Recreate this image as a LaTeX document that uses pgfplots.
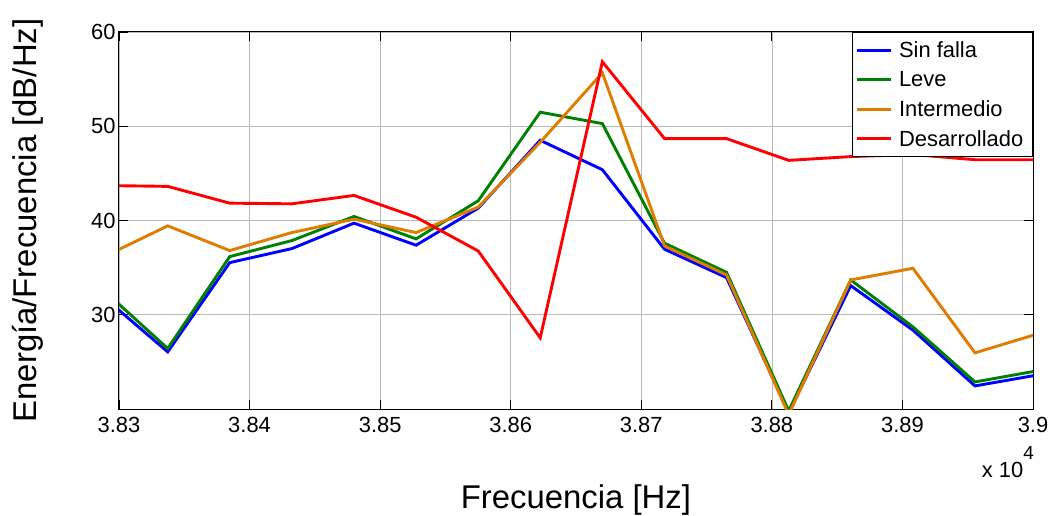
\documentclass[border=0pt]{standalone}
\usepackage{fontspec}
\setmainfont{Liberation Sans}
\usepackage{pgfplots}
\pgfplotsset{compat=1.18}
\definecolor{mblue}{rgb}{0,0,1}
\definecolor{mgreen}{rgb}{0,0.5,0}
\definecolor{morange}{rgb}{0.87,0.49,0}
\definecolor{mred}{rgb}{1,0,0}
\begin{document}
\begin{tikzpicture}
\useasboundingbox (-119bp,-107bp) rectangle (937bp,409bp);
\begin{axis}[
  name=ax,
  at={(0,0)}, anchor=south west,
  scale only axis, width=914bp, height=377bp,
  xmin=38300, xmax=39000, ymin=20, ymax=60,
  xtick={38300,38400,...,39000},
  xticklabels={3.83,3.84,3.85,3.86,3.87,3.88,3.89,3.9},
  scaled x ticks=false,
  ytick={30,40,50,60},
  tick align=inside, major tick length=9bp,
  grid=major, major grid style={gray!55, line width=0.6bp},
  axis line style={line width=1bp},
  every tick/.style={black, line width=0.8bp},
  tick label style={font=\fontsize{22}{26}\selectfont},
  xticklabel style={yshift=-5bp},
  /pgf/number format/assume math mode=true,
  xlabel={Frecuencia [Hz]},
  ylabel={Energía/Frecuencia [dB/Hz]},
  label style={font=\fontsize{33}{40}\selectfont},
  xlabel style={at={(axis description cs:0.5,0)}, anchor=base, yshift=-99bp},
  ylabel style={at={(axis description cs:-0.0996,0.5)}, anchor=center},
  legend style={at={(1,1)}, anchor=north east, draw=black, line width=1bp, fill=white,
    font=\fontsize{22}{26}\selectfont, inner xsep=3bp, inner ysep=3bp,
    nodes={inner sep=6.2bp}},
  legend cell align=left,
  legend image code/.code={\draw[#1] (0bp,0bp) -- (34bp,0bp);},
]
\addplot[mblue, line width=2.9bp] coordinates {
(38289.7,31.7) (38337.3,26.06) (38384.8,35.53) (38432.4,37.02) (38480.0,39.72)
(38527.5,37.38) (38575.1,41.31) (38622.6,48.51) (38670.2,45.39) (38717.8,36.95)
(38765.3,33.94) (38812.9,19.6) (38860.4,33.09) (38908.0,28.37) (38955.6,22.45)
(39003.1,23.6)};
\addlegendentry{Sin falla}
\addplot[mgreen, line width=2.9bp] coordinates {
(38289.7,32.41) (38337.3,26.42) (38384.8,36.17) (38432.4,37.87) (38480.0,40.43)
(38527.5,38.05) (38575.1,42.09) (38622.6,51.49) (38670.2,50.28) (38717.8,37.59)
(38765.3,34.5) (38812.9,19.8) (38860.4,33.69) (38908.0,28.72) (38955.6,22.87)
(39003.1,24.05)};
\addlegendentry{Leve}
\addplot[morange, line width=2.9bp] coordinates {
(38289.7,36.24) (38337.3,39.43) (38384.8,36.81) (38432.4,38.72) (38480.0,40.14)
(38527.5,38.72) (38575.1,41.42) (38622.6,48.30) (38670.2,55.67) (38717.8,37.30)
(38765.3,34.22) (38812.9,19.4) (38860.4,33.69) (38908.0,34.93) (38955.6,25.96)
(39003.1,27.95)};
\addlegendentry{Intermedio}
\addplot[mred, line width=2.9bp] coordinates {
(38289.7,43.71) (38337.3,43.62) (38384.8,41.84) (38432.4,41.77) (38480.0,42.66)
(38527.5,40.35) (38575.1,36.77) (38622.6,27.55) (38670.2,56.84) (38717.8,48.69)
(38765.3,48.69) (38812.9,46.38) (38860.4,46.78) (38908.0,47.0) (38955.6,46.45)
(39003.1,46.45)};
\addlegendentry{Desarrollado}
\end{axis}
\node[anchor=base east, font=\fontsize{22}{26}\selectfont, inner sep=0pt]
  at ([yshift=-68bp, xshift=1bp]ax.south east)
  {x 10\raisebox{18bp}{\fontsize{19}{20}\selectfont 4}};
\end{tikzpicture}
\end{document}
